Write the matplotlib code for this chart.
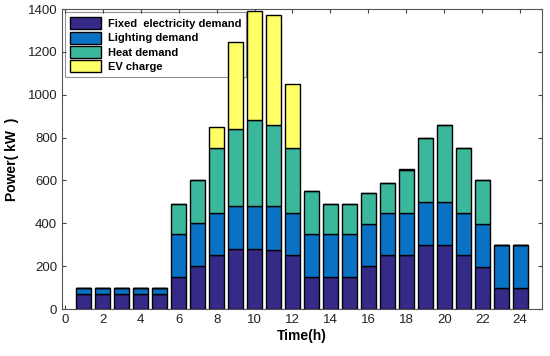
import matplotlib
matplotlib.use("Agg")
import matplotlib.pyplot as plt
import numpy as np

plt.rcParams["font.family"] = ["Liberation Sans", "DejaVu Sans"]

# hourly demand components (kW)
hours = np.arange(1, 25)
fixed = [70, 70, 70, 70, 70, 150, 200, 250, 280, 282, 275, 250,
         150, 150, 150, 200, 250, 250, 300, 300, 250, 195, 100, 100]
lighting = [30, 30, 30, 30, 30, 200, 200, 200, 200, 198, 205, 200,
            200, 200, 200, 195, 200, 200, 200, 200, 200, 200, 200, 200]
heat = [0, 0, 0, 0, 0, 140, 200, 300, 360, 400, 380, 300,
        200, 140, 140, 145, 140, 200, 300, 360, 300, 205, 0, 0]
ev = [0, 0, 0, 0, 0, 0, 0, 100, 405, 510, 510, 300,
      0, 0, 0, 0, 0, 3, 0, 0, 0, 3, 0, 0]

series = [
    ("Fixed  electricity demand", fixed, "#352A87"),
    ("Lighting demand", lighting, "#0A72C4"),
    ("Heat demand", heat, "#3BB89C"),
    ("EV charge", ev, "#FFFF66"),
]

fig = plt.figure(figsize=(5.5, 3.56), dpi=100)
ax = fig.add_axes([0.1127, 0.132, 0.8727, 0.8427])

bottom = np.zeros(len(hours))
for label, vals, color in series:
    vals = np.array(vals, dtype=float)
    ax.bar(hours, vals, width=0.8, bottom=bottom, color=color,
           edgecolor="black", linewidth=1.0, label=label, zorder=2)
    bottom += vals

ax.set_xlim(-0.15, 25.15)
ax.set_ylim(0, 1400)
ax.set_xticks(np.arange(0, 25, 2))
ax.set_yticks(np.arange(0, 1401, 200))
ax.tick_params(direction="in", top=True, right=True, labelsize=9.5,
               length=3, color="#444444", labelcolor="#222222")
for sp in ax.spines.values():
    sp.set_color("#555555")
    sp.set_linewidth(0.8)

ax.set_xlabel("Time(h)", fontsize=10, fontweight="bold", labelpad=2)
ax.set_ylabel("Power( kW  )", fontsize=10, fontweight="bold", labelpad=6)

# legend sits behind the tall bars like in the original
leg = ax.legend(loc="upper left", prop={"weight": "bold", "size": 8},
                frameon=True, fancybox=False, edgecolor="#777777",
                handlelength=2.8, handleheight=1.3, borderpad=0.45,
                labelspacing=0.2, handletextpad=0.55,
                borderaxespad=0.3)
leg.get_frame().set_linewidth(0.8)
leg.set_zorder(1)

fig.savefig("out.png", dpi=100)
